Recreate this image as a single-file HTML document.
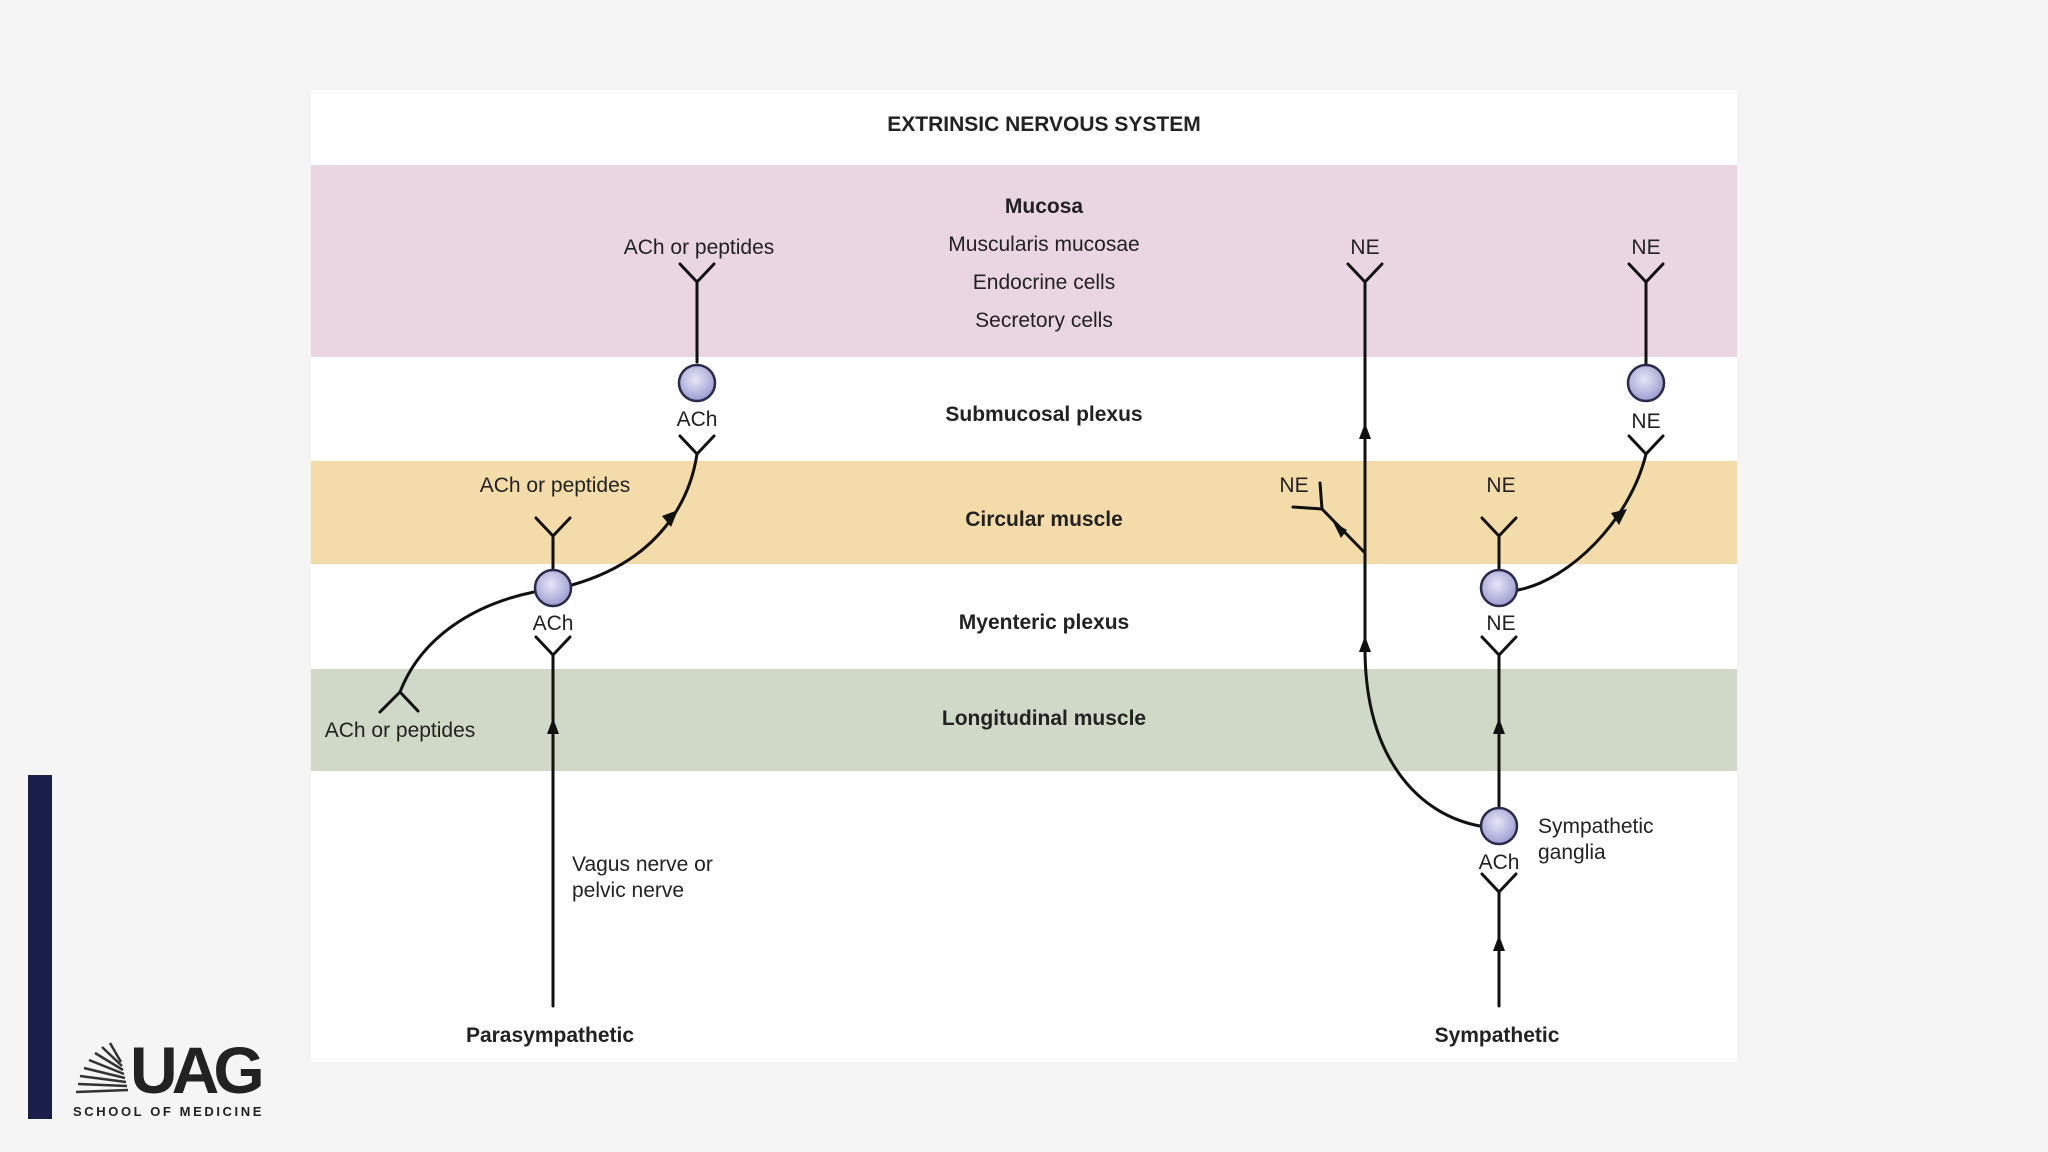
<!DOCTYPE html>
<html><head><meta charset="utf-8"><style>
html,body{margin:0;padding:0;background:#f5f5f5;}
svg{display:block;}
text{font-family:"Liberation Sans",Arial,sans-serif;fill:#222;}
.b{font-weight:bold;}
</style></head><body>
<svg width="2048" height="1152" viewBox="0 0 2048 1152" xmlns="http://www.w3.org/2000/svg">
<defs>
<radialGradient id="g" cx="0.45" cy="0.4" r="0.6">
<stop offset="0" stop-color="#e6e6f8"/><stop offset="1" stop-color="#9c9cd0"/>
</radialGradient>
</defs>
<rect x="0" y="0" width="2048" height="1152" fill="#f5f5f5"/>
<rect x="311" y="90" width="1426" height="972" fill="#ffffff"/>
<rect x="311" y="165" width="1426" height="192" fill="#ead5e3"/>
<rect x="311" y="461" width="1426" height="103" fill="#f4dcaa"/>
<rect x="311" y="669" width="1426" height="102" fill="#d0d8c8"/>

<g text-anchor="middle" font-size="21">
<text x="1044" y="131" class="b">EXTRINSIC NERVOUS SYSTEM</text>
<text x="1044" y="213" class="b">Mucosa</text>
<text x="1044" y="251">Muscularis mucosae</text>
<text x="1044" y="289">Endocrine cells</text>
<text x="1044" y="327">Secretory cells</text>
<text x="1044" y="421" class="b">Submucosal plexus</text>
<text x="1044" y="526" class="b">Circular muscle</text>
<text x="1044" y="629" class="b">Myenteric plexus</text>
<text x="1044" y="725" class="b">Longitudinal muscle</text>
<text x="550" y="1042" class="b">Parasympathetic</text>
<text x="1497" y="1042" class="b">Sympathetic</text>
</g>

<g stroke="#111" stroke-width="3" fill="none" stroke-linecap="round">
<!-- left top neuron -->
<path d="M697 282 L697 362"/>
<path d="M680 264 L697 282 L714 264"/>
<path d="M680 436 L697 454 L714 436"/>
<path d="M697 454 C690 500 660 560 572 585"/>
<!-- left mid neuron -->
<path d="M553 536 L553 570"/>
<path d="M536 518 L553 536 L570 518"/>
<path d="M536 637 L553 655 L570 637"/>
<path d="M553 655 L553 1006"/>
<path d="M534 592 C470 605 420 640 400 692"/>
<path d="M400 692 L380 712 M400 692 L418 711"/>
<!-- right main -->
<path d="M1365 282 L1365 648 C1365 760 1420 815 1480 826"/>
<path d="M1348 264 L1365 282 L1382 264"/>
<path d="M1365 553 L1322 509 L1293 507 M1322 509 L1320 483"/>
<!-- middle column -->
<path d="M1499 536 L1499 570"/>
<path d="M1482 518 L1499 536 L1516 518"/>
<path d="M1482 637 L1499 655 L1516 637"/>
<path d="M1499 655 L1499 806"/>
<path d="M1482 874 L1499 892 L1516 874"/>
<path d="M1499 892 L1499 1006"/>
<path d="M1518 590 C1570 580 1630 520 1646 454"/>
<!-- far right -->
<path d="M1646 282 L1646 365"/>
<path d="M1629 264 L1646 282 L1663 264"/>
<path d="M1629 436 L1646 454 L1663 436"/>
</g>

<g fill="#111">
<polygon points="553,718 547,734 559,734"/>
<polygon points="1365,423 1359,439 1371,439"/>
<polygon points="1365,636 1359,652 1371,652"/>
<polygon points="1499,718 1493,734 1505,734"/>
<polygon points="1499,935 1493,951 1505,951"/>
<polygon points="678,510 662,516 671,527"/>
<polygon points="1627,509 1611,513 1619,525"/>
<polygon points="1333,522 1341,538 1347,530"/>
</g>

<g stroke="#2a2a4a" stroke-width="2.5" fill="url(#g)">
<circle cx="697" cy="383" r="18"/>
<circle cx="553" cy="588" r="18"/>
<circle cx="1499" cy="588" r="18"/>
<circle cx="1646" cy="383" r="18"/>
<circle cx="1499" cy="826" r="18"/>
</g>

<g text-anchor="middle" font-size="21">
<text x="699" y="254">ACh or peptides</text>
<text x="697" y="426">ACh</text>
<text x="555" y="492">ACh or peptides</text>
<text x="553" y="630">ACh</text>
<text x="400" y="737">ACh or peptides</text>
<text x="1365" y="254">NE</text>
<text x="1646" y="254">NE</text>
<text x="1646" y="428">NE</text>
<text x="1294" y="492">NE</text>
<text x="1501" y="492">NE</text>
<text x="1501" y="630">NE</text>
<text x="1499" y="869">ACh</text>
</g>
<g font-size="21">
<text x="572" y="871">Vagus nerve or</text>
<text x="572" y="897">pelvic nerve</text>
<text x="1538" y="833">Sympathetic</text>
<text x="1538" y="859">ganglia</text>
</g>

<!-- logo -->
<rect x="28" y="775" width="24" height="344" fill="#1a1f4a"/>
<g stroke="#333" stroke-width="2.5" fill="none">
<path d="M76 1092 L128 1090"/>
<path d="M78 1084 L127 1086"/>
<path d="M80 1076 L126 1082"/>
<path d="M84 1068 L125 1078"/>
<path d="M89 1060 L124 1074"/>
<path d="M95 1053 L123 1070"/>
<path d="M102 1047 L122 1066"/>
<path d="M110 1043 L121 1062"/>
</g>
<text x="130" y="1093" font-size="66" font-weight="bold" style="letter-spacing:-6px" fill="#1c1c1c">UAG</text>
<text x="73" y="1116" font-size="13" font-weight="bold" style="letter-spacing:2.6px" fill="#333">SCHOOL OF MEDICINE</text>
</svg>
</body></html>
